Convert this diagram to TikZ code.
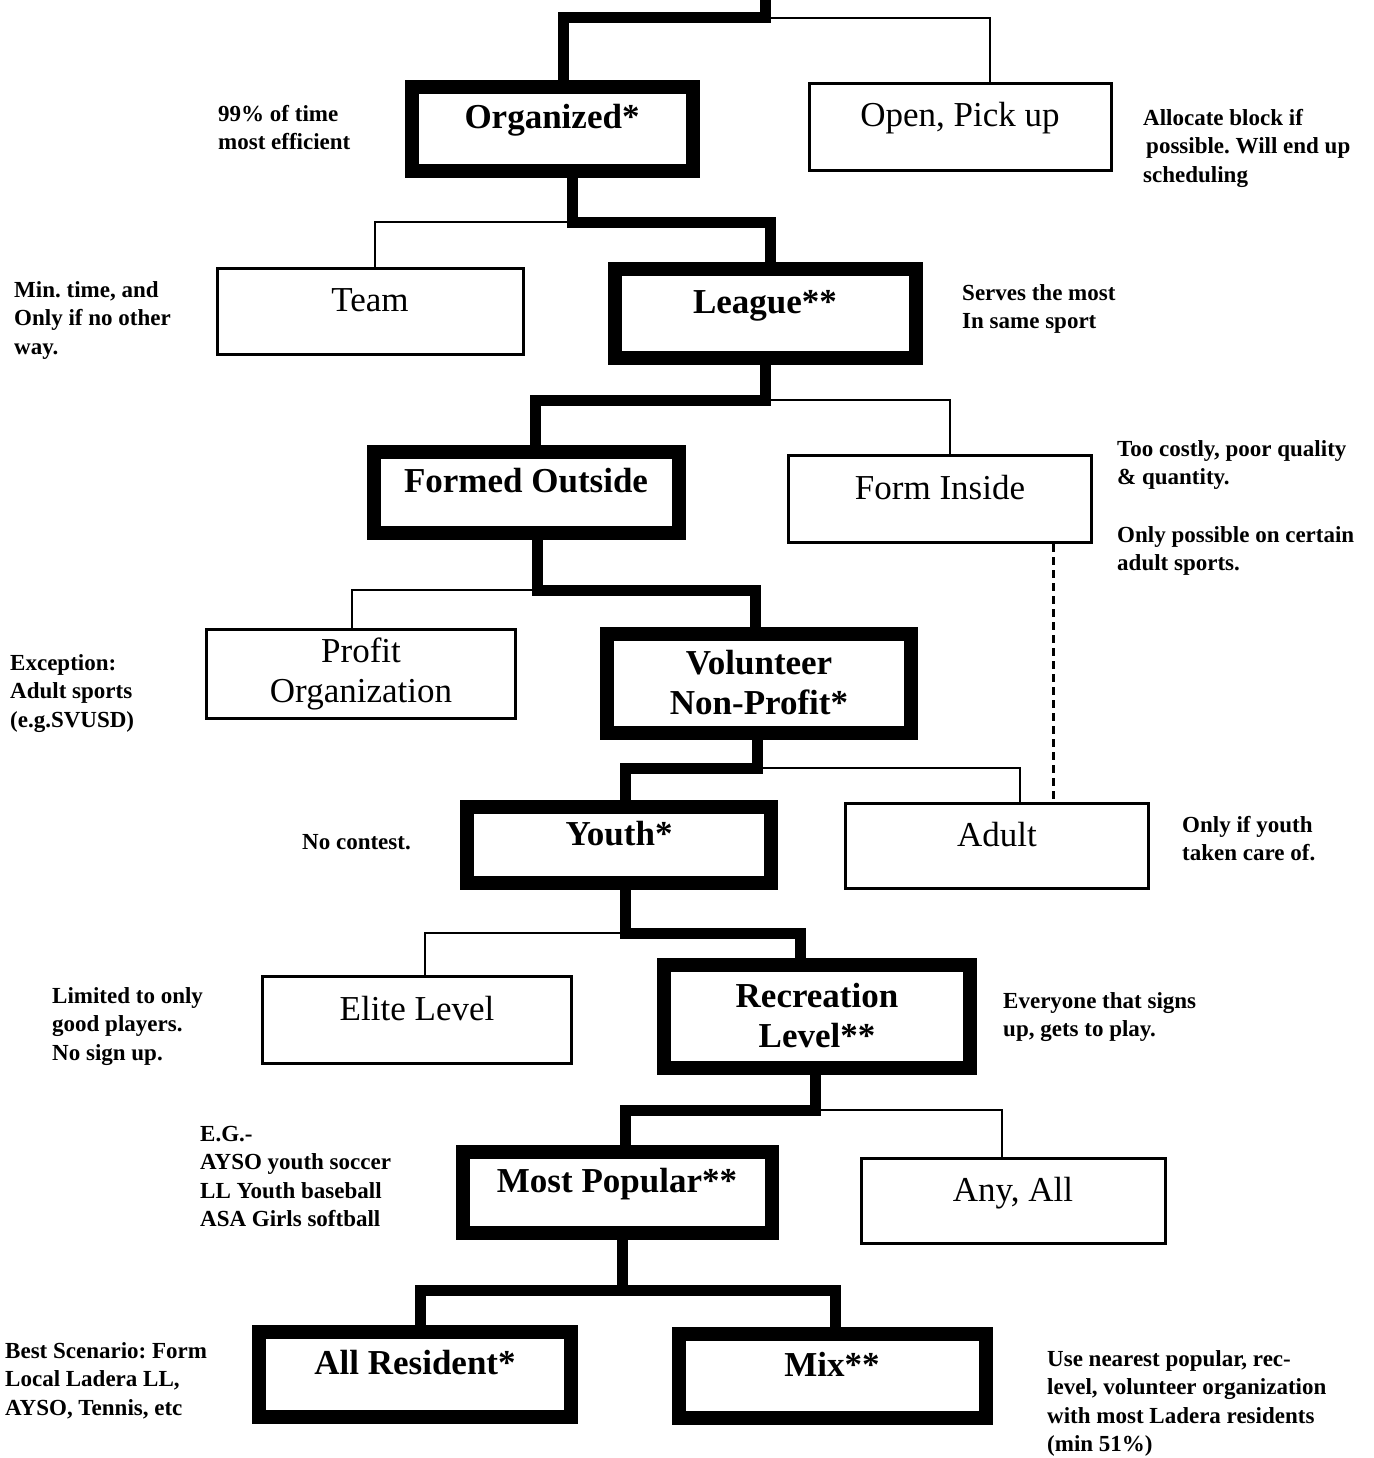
\documentclass[tikz,border=0pt]{standalone}
\usepackage{fontspec}
\setmainfont{Liberation Serif}
\frenchspacing
\newcommand\boxfont{\fontsize{35pt}{40pt}\selectfont}
\newcommand\notefont{\bfseries\fontsize{23pt}{28.5pt}\selectfont}
\tikzset{
	strong/.style={draw,line width=14pt,font=\boxfont\bfseries,inner sep=0pt},
	weak/.style={draw,line width=3pt,font=\boxfont,inner sep=0pt},
	oneline/.style={text height=24pt,text depth=24pt},
	twolines/.style={align=center},
	note/.style={font=\notefont,align=left,anchor=north west,inner sep=0pt},
	thickline/.style={line width=11pt},
	thinline/.style={line width=2.5pt},
	dashline/.style={line width=3pt,dash pattern=on 8pt off 5pt}
}
\begin{document}
\begin{tikzpicture}[x=1pt,y=-1pt]
		\useasboundingbox (0,0) rectangle (1373,1458);
		
		\node[strong,oneline,minimum width=281pt,minimum height=84pt] (org) at (552,129) {Organized*};
		\node[weak,oneline,minimum width=302pt,minimum height=87pt] (open) at (960,127) {Open, Pick up};
		\node[weak,oneline,minimum width=306pt,minimum height=86pt] (team) at (370,311) {Team};
		\node[strong,oneline,minimum width=301pt,minimum height=89pt] (league) at (765,313) {League**};
		\node[strong,oneline,minimum width=305pt,minimum height=81pt] (formed) at (526,492) {Formed Outside};
		\node[weak,oneline,minimum width=303pt,minimum height=87pt] (inside) at (940,499) {Form Inside};
		\node[weak,twolines,minimum width=309pt,minimum height=89pt] (profit) at (361,674) {Profit\\Organization};
		\node[strong,twolines,minimum width=304pt,minimum height=99pt] (volunteer) at (759,683) {Volunteer\\Non-Profit*};
		\node[strong,oneline,minimum width=304pt,minimum height=76pt] (youth) at (619,845) {Youth*};
		\node[weak,oneline,minimum width=303pt,minimum height=85pt] (adult) at (997,846) {Adult};
		\node[weak,oneline,minimum width=309pt,minimum height=87pt] (elite) at (417,1020) {Elite Level};
		\node[strong,twolines,minimum width=306pt,minimum height=103pt] (recreation) at (817,1016) {Recreation\\Level**};
		\node[strong,oneline,minimum width=309pt,minimum height=81pt] (popular) at (617,1192) {Most Popular**};
		\node[weak,oneline,minimum width=304pt,minimum height=85pt] (anyall) at (1013,1201) {Any, All};
		\node[strong,oneline,minimum width=312pt,minimum height=85pt] (resident) at (415,1374) {All Resident*};
		\node[strong,oneline,minimum width=307pt,minimum height=84pt] (mix) at (832,1376) {Mix**};
		
		\coordinate (top) at (765,0);
		\coordinate (j0) at (765,18);
		\coordinate (j1) at (572,222);
		\coordinate (j2) at (765,400);
		\coordinate (j3) at (537,590);
		\coordinate (j4) at (757,768);
		\coordinate (j5) at (625,933);
		\coordinate (j6) at (815,1110);
		\coordinate (j7) at (622,1290);
		
		\draw[thinline] (j0) -| ([xshift=30pt]open.north);
		\draw[thickline] (top) -- (j0) -| ([xshift=11pt]org.north);
		\draw[thinline] (j1) -| ([xshift=5pt]team.north);
		\draw[thickline] (org.south -| j1) -- (j1) -| ([xshift=5pt]league.north);
		\draw[thinline] (j2) -| ([xshift=10pt]inside.north);
		\draw[thickline] (league.south -| j2) -- (j2) -| ([xshift=9pt]formed.north);
		\draw[thinline] (j3) -| ([xshift=-9pt]profit.north);
		\draw[thickline] (formed.south -| j3) -- (j3) -| ([xshift=-4pt]volunteer.north);
		\draw[thinline] (j4) -| ([xshift=23pt]adult.north);
		\draw[thickline] (volunteer.south -| j4) -- (j4) -| ([xshift=6pt]youth.north);
		\draw[dashline] ([xshift=113pt]inside.south) -- ([xshift=56pt]adult.north);
		\draw[thinline] (j5) -| ([xshift=8pt]elite.north);
		\draw[thickline] (youth.south -| j5) -- (j5) -| ([xshift=-17pt]recreation.north);
		\draw[thinline] (j6) -| ([xshift=-11pt]anyall.north);
		\draw[thickline] (recreation.south -| j6) -- (j6) -| ([xshift=8pt]popular.north);
		\draw[thickline] (popular.south -| j7) -- (j7) -| ([xshift=5pt]resident.north);
		\draw[thickline] (j7) -| ([xshift=3pt]mix.north);
		
		\node[note] (efficient) at (218,105) {99\% of time\\most efficient};
		\node[note] (allocate) at (1143,109) {Allocate block if\\\hspace{3pt}possible. Will end up\\scheduling};
		\node[note] (mintime) at (14,281) {Min. time, and\\Only if no other\\way.};
		\node[note] (serves) at (962,284) {Serves the most\\In same sport};
		\node[note] (costly) at (1117,440) {Too costly, poor quality\\\& quantity.\\[29pt]Only possible on certain\\adult sports.};
		\node[note] (exception) at (10,654) {Exception:\\Adult sports\\(e.g.SVUSD)};
		\node[note] (contest) at (302,834) {No contest.};
		\node[note] (onlyif) at (1182,816) {Only if youth\\taken care of.};
		\node[note] (limited) at (52,987) {Limited to only\\good players.\\No sign up.};
		\node[note] (everyone) at (1003,992) {Everyone that signs\\up, gets to play.};
		\node[note] (examples) at (200,1126) {E.G.-\\AYSO youth soccer\\LL Youth baseball\\ASA Girls softball};
		\node[note] (best) at (5,1342) {Best Scenario: Form\\Local Ladera LL,\\AYSO, Tennis, etc};
		\node[note] (nearest) at (1047,1350) {Use nearest popular, rec-\\level, volunteer organization\\with most Ladera residents\\(min 51\%)};
	\end{tikzpicture}
\end{document}
